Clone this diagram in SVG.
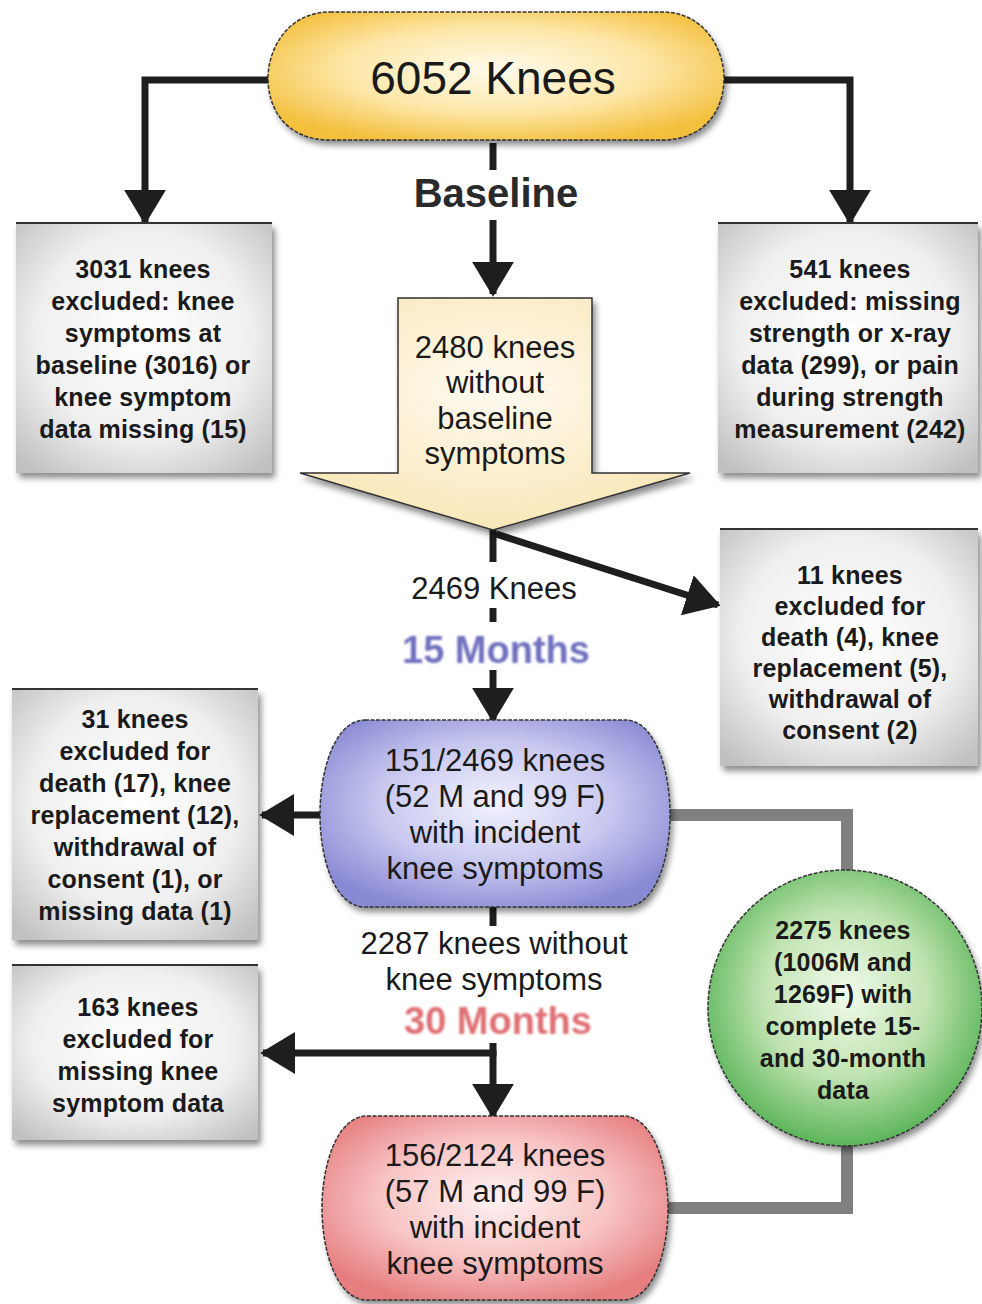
<svg xmlns="http://www.w3.org/2000/svg" width="982" height="1304" viewBox="0 0 982 1304">
<defs>
<radialGradient id="gGray" cx="50%" cy="45%" r="70%">
<stop offset="0" stop-color="#ffffff"/><stop offset="0.6" stop-color="#efefef"/><stop offset="1" stop-color="#c0c0c0"/>
</radialGradient>
<radialGradient id="gYel" cx="50%" cy="45%" r="60%">
<stop offset="0" stop-color="#fffbee"/><stop offset="0.55" stop-color="#fde7a8"/><stop offset="1" stop-color="#f3bf3c"/>
</radialGradient>
<radialGradient id="gArrow" cx="50%" cy="40%" r="70%">
<stop offset="0" stop-color="#fffaf0"/><stop offset="1" stop-color="#f8e4b0"/>
</radialGradient>
<radialGradient id="gBlue" cx="50%" cy="45%" r="60%">
<stop offset="0" stop-color="#f2f2ff"/><stop offset="0.55" stop-color="#c8c8f0"/><stop offset="1" stop-color="#8a8ad4"/>
</radialGradient>
<radialGradient id="gGreen" cx="50%" cy="45%" r="55%">
<stop offset="0" stop-color="#f2fbec"/><stop offset="0.55" stop-color="#bfe3b0"/><stop offset="1" stop-color="#5cb55a"/>
</radialGradient>
<radialGradient id="gPink" cx="50%" cy="45%" r="60%">
<stop offset="0" stop-color="#fff2f2"/><stop offset="0.55" stop-color="#f8c4c4"/><stop offset="1" stop-color="#e67e80"/>
</radialGradient>
<filter id="sh" x="-10%" y="-10%" width="125%" height="125%">
<feDropShadow dx="3" dy="5" stdDeviation="3" flood-color="#000" flood-opacity="0.45"/>
</filter>
<filter id="blur" x="-5%" y="-20%" width="110%" height="140%">
<feGaussianBlur stdDeviation="0.8"/>
</filter>
<marker id="ah" markerWidth="5" markerHeight="6" refX="4.6" refY="3" orient="auto" markerUnits="strokeWidth">
<path d="M0,0 L5,3 L0,6 Z" fill="#1e1e1e"/>
</marker>
</defs>
<style>
.box{fill:url(#gGray);filter:url(#sh)}
.topline{stroke:#333;stroke-width:2}
.bt{font-family:"Liberation Sans",Arial,sans-serif;font-weight:bold;font-size:25px;letter-spacing:0.2px;fill:#1a1a1a;text-anchor:middle}
.nt{font-family:"Liberation Sans",Arial,sans-serif;font-size:31px;fill:#1a1a1a;text-anchor:middle}
.edge{stroke:#333;stroke-width:1.5;stroke-dasharray:4 1.5}
.conn{fill:none;stroke:#1e1e1e;stroke-width:7}
.gray{fill:none;stroke:#808080;stroke-width:12}
</style>

<g id="connectors">
<polyline class="conn" points="268,80 145,80 145,222" marker-end="url(#ah)"/>
<polyline class="conn" points="724,80 850,80 850,222" marker-end="url(#ah)"/>
<line class="conn" x1="493" y1="143" x2="493" y2="170"/>
<line class="conn" x1="493" y1="220" x2="493" y2="294" marker-end="url(#ah)"/>
<line class="conn" x1="493" y1="530" x2="493" y2="562"/>
<line class="conn" x1="493" y1="608" x2="493" y2="622"/>
<line class="conn" x1="496" y1="534" x2="718" y2="605" marker-end="url(#ah)"/>
<line class="conn" x1="493" y1="670" x2="493" y2="720" marker-end="url(#ah)"/>
<line class="conn" x1="322" y1="815" x2="262" y2="815" marker-end="url(#ah)"/>
<line class="conn" x1="493" y1="906" x2="493" y2="926"/>
<polyline class="conn" points="493,1043 493,1053 263,1053" marker-end="url(#ah)"/>
<line class="conn" x1="493" y1="1050" x2="493" y2="1116" marker-end="url(#ah)"/>
<polyline class="gray" points="670,815 847,815 847,874"/>
<polyline class="gray" points="847,1140 847,1208 668,1208"/>
</g>

<g id="n-6052">
<path d="M330,12 H662 C705,12 724,50 724,78 C724,110 705,140 662,140 H330 C287,140 268,110 268,78 C268,50 287,12 330,12 Z" fill="url(#gYel)" filter="url(#sh)"/>
<path d="M330,12 H662 C705,12 724,50 724,78 C724,110 705,140 662,140 H330 C287,140 268,110 268,78 C268,50 287,12 330,12 Z" fill="none" class="edge"/>
<text x="493" y="94" font-family="Liberation Sans, Arial, sans-serif" font-size="46" text-anchor="middle" fill="#1a1a1a">6052 Knees</text>
</g>

<g id="label-baseline">
<text x="496" y="207" font-family="Liberation Sans, Arial, sans-serif" font-weight="bold" font-size="40" text-anchor="middle" fill="#2a2a2a">Baseline</text>
</g>

<g id="n-3031">
<rect class="box" x="16" y="223" width="256" height="250"/>
<line class="topline" x1="16" y1="223" x2="272" y2="223"/>
<text class="bt" x="143" y="278">3031 knees</text>
<text class="bt" x="143" y="310">excluded: knee</text>
<text class="bt" x="143" y="342">symptoms at</text>
<text class="bt" x="143" y="374">baseline (3016) or</text>
<text class="bt" x="143" y="406">knee symptom</text>
<text class="bt" x="143" y="438">data missing (15)</text>
</g>

<g id="n-541">
<rect class="box" x="718" y="223" width="260" height="250"/>
<line class="topline" x1="718" y1="223" x2="978" y2="223"/>
<text class="bt" x="850" y="278">541 knees</text>
<text class="bt" x="850" y="310">excluded: missing</text>
<text class="bt" x="850" y="342">strength or x-ray</text>
<text class="bt" x="850" y="374">data (299), or pain</text>
<text class="bt" x="850" y="406">during strength</text>
<text class="bt" x="850" y="438">measurement (242)</text>
</g>

<g id="n-2480">
<path d="M398,298 H592 V473 H690 L493,530 L300,473 H398 Z" fill="url(#gArrow)" stroke="#333" stroke-width="1.5" filter="url(#sh)"/>
<text class="nt" x="495" y="358">2480 knees</text>
<text class="nt" x="495" y="393">without</text>
<text class="nt" x="495" y="429">baseline</text>
<text class="nt" x="495" y="464">symptoms</text>
</g>

<g id="label-2469">
<text x="494" y="599" font-family="Liberation Sans, Arial, sans-serif" font-size="31" text-anchor="middle" fill="#1a1a1a">2469 Knees</text>
<text x="496" y="663" font-family="Liberation Sans, Arial, sans-serif" font-weight="bold" font-size="38" text-anchor="middle" fill="#6f6fbf" filter="url(#blur)">15 Months</text>
</g>

<g id="n-11">
<rect class="box" x="720" y="529" width="258" height="237"/>
<line class="topline" x1="720" y1="529" x2="978" y2="529"/>
<text class="bt" x="850" y="584">11 knees</text>
<text class="bt" x="850" y="615">excluded for</text>
<text class="bt" x="850" y="646">death (4), knee</text>
<text class="bt" x="850" y="677">replacement (5),</text>
<text class="bt" x="850" y="708">withdrawal of</text>
<text class="bt" x="850" y="739">consent (2)</text>
</g>

<g id="n-31">
<rect class="box" x="12" y="689" width="246" height="251"/>
<line class="topline" x1="12" y1="689" x2="258" y2="689"/>
<text class="bt" x="135" y="728">31 knees</text>
<text class="bt" x="135" y="760">excluded for</text>
<text class="bt" x="135" y="792">death (17), knee</text>
<text class="bt" x="135" y="824">replacement (12),</text>
<text class="bt" x="135" y="856">withdrawal of</text>
<text class="bt" x="135" y="888">consent (1), or</text>
<text class="bt" x="135" y="920">missing data (1)</text>
</g>

<g id="n-151">
<path d="M365,720 H625 C655,720 670,770 670,814 C670,860 655,907 625,907 H365 C335,907 320,860 320,814 C320,770 335,720 365,720 Z" fill="url(#gBlue)" filter="url(#sh)"/>
<path d="M365,720 H625 C655,720 670,770 670,814 C670,860 655,907 625,907 H365 C335,907 320,860 320,814 C320,770 335,720 365,720 Z" fill="none" class="edge"/>
<text class="nt" x="495" y="771">151/2469 knees</text>
<text class="nt" x="495" y="807">(52 M and 99 F)</text>
<text class="nt" x="495" y="843">with incident</text>
<text class="nt" x="495" y="879">knee symptoms</text>
</g>

<g id="label-2287">
<text class="nt" x="494" y="954">2287 knees without</text>
<text class="nt" x="494" y="990">knee symptoms</text>
<text x="498" y="1034" font-family="Liberation Sans, Arial, sans-serif" font-weight="bold" font-size="38" text-anchor="middle" fill="#e07074" filter="url(#blur)">30 Months</text>
</g>

<g id="n-2275">
<ellipse cx="845" cy="1008" rx="137" ry="138" fill="url(#gGreen)" filter="url(#sh)"/>
<ellipse cx="845" cy="1008" rx="137" ry="138" fill="none" class="edge"/>
<text class="bt" x="843" y="939">2275 knees</text>
<text class="bt" x="843" y="971">(1006M and</text>
<text class="bt" x="843" y="1003">1269F) with</text>
<text class="bt" x="843" y="1035">complete 15-</text>
<text class="bt" x="843" y="1067">and 30-month</text>
<text class="bt" x="843" y="1099">data</text>
</g>

<g id="n-163">
<rect class="box" x="12" y="965" width="246" height="175"/>
<line class="topline" x1="12" y1="965" x2="258" y2="965"/>
<text class="bt" x="138" y="1016">163 knees</text>
<text class="bt" x="138" y="1048">excluded for</text>
<text class="bt" x="138" y="1080">missing knee</text>
<text class="bt" x="138" y="1112">symptom data</text>
</g>

<g id="n-156">
<path d="M367,1116 H623 C653,1116 668,1165 668,1208 C668,1252 653,1300 623,1300 H367 C337,1300 322,1252 322,1208 C322,1165 337,1116 367,1116 Z" fill="url(#gPink)" filter="url(#sh)"/>
<path d="M367,1116 H623 C653,1116 668,1165 668,1208 C668,1252 653,1300 623,1300 H367 C337,1300 322,1252 322,1208 C322,1165 337,1116 367,1116 Z" fill="none" class="edge"/>
<text class="nt" x="495" y="1166">156/2124 knees</text>
<text class="nt" x="495" y="1202">(57 M and 99 F)</text>
<text class="nt" x="495" y="1238">with incident</text>
<text class="nt" x="495" y="1274">knee symptoms</text>
</g>
</svg>
